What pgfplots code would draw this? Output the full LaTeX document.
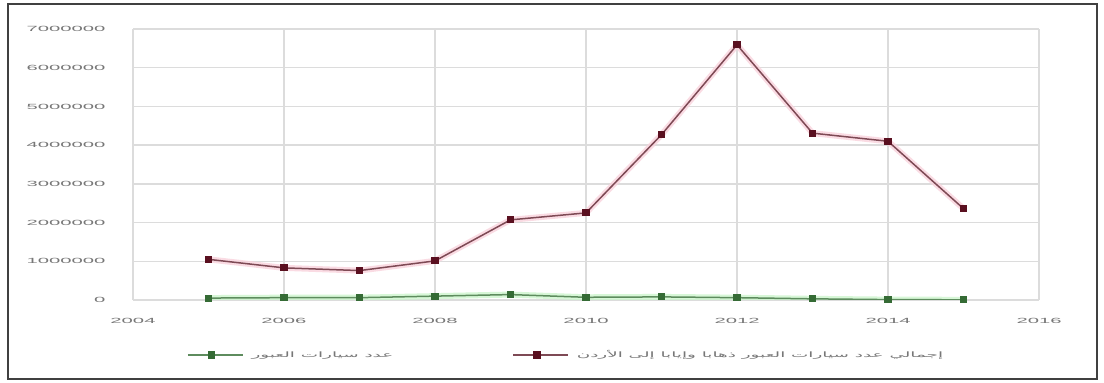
\documentclass[border=0pt]{standalone}
\usepackage{graphicx}
\usepackage{pgfplots}
\pgfplotsset{compat=1.18}
\usepackage{fontspec}
\setmainfont{Liberation Sans}
\newfontfamily\arabicfont[Script=Arabic]{DejaVu Sans}
\TeXXeTstate=1

\definecolor{gridgray}{HTML}{DCDCDC}
\definecolor{ticktext}{HTML}{777777}
\definecolor{redline}{HTML}{7E4A55}
\definecolor{redmark}{HTML}{5A1020}
\definecolor{redglow}{HTML}{F9D3DC}
\definecolor{greenline}{HTML}{5E8C5E}
\definecolor{greenmark}{HTML}{356B35}
\definecolor{greenglow}{HTML}{CDF5CD}

% wide, low lettering used for the labels of the chart
\newcommand{\wide}[1]{\scalebox{2.7}[1]{#1}}
\newcommand{\widelegend}[1]{\scalebox{2.45}[1]{#1}}

\begin{document}
\begin{tikzpicture}[x=1pt,y=1pt]
\path[use as bounding box] (0,0) rectangle (1104,383);
\fill[white] (0,0) rectangle (1104,383);
\draw[black!75, line width=1.3pt] (8,4) rectangle (1097,379);
\begin{axis}[
  at={(133pt,83pt)}, anchor=south west,
  scale only axis, width=906pt, height=271pt,
  xmin=2004, xmax=2016, ymin=0, ymax=7000000,
  xtick={2004,2006,...,2016},
  ytick={0,1000000,...,7000000},
  scaled y ticks=false,
  /pgf/number format/.cd, fixed, 1000 sep={}, assume math mode=true,
  /pgfplots/.cd,
  xticklabel={\wide{\pgfmathprintnumber{\tick}}},
  yticklabel={\wide{\pgfmathprintnumber{\tick}}},
  tick style={draw=none},
  ticklabel style={font=\fontsize{7.5}{9}\selectfont, text=ticktext},
  xticklabel style={yshift=-15pt},
  yticklabel style={xshift=-24pt},
  grid=major,
  grid style={gridgray, line width=1.3pt},
  axis line style={gridgray, line width=1.3pt},
  axis x line*=bottom, axis y line*=left,
  legend columns=2,
  legend style={at={(0.478,-0.203)}, anchor=center, draw=none, fill=none,
    font=\fontsize{7.5}{9}\selectfont, text=ticktext,
    /tikz/every even column/.append style={column sep=117pt}},
  legend image code/.code={
    \draw[#1, line width=1.5pt] (0pt,0pt) -- (55pt,0pt);
    \draw[#1, only marks, mark=square*, mark size=2.8pt] plot coordinates {(24pt,0pt)};
  },
]
% soft halo under each series
\addplot[greenglow, line width=6pt, opacity=0.8, forget plot] coordinates {
  (2005,50000) (2006,60000) (2007,60000) (2008,100000) (2009,140000)
  (2010,70000) (2011,80000) (2012,60000) (2013,30000) (2014,10000) (2015,5000)};
\addplot[redglow, line width=6pt, opacity=0.8, forget plot] coordinates {
  (2005,1050000) (2006,830000) (2007,760000) (2008,1010000) (2009,2070000)
  (2010,2250000) (2011,4270000) (2012,6590000) (2013,4310000) (2014,4100000) (2015,2360000)};
% series
\addplot[greenline, line width=1.5pt, mark=square*, mark size=2.8pt,
  mark options={draw=greenmark, fill=greenmark}] coordinates {
  (2005,50000) (2006,60000) (2007,60000) (2008,100000) (2009,140000)
  (2010,70000) (2011,80000) (2012,60000) (2013,30000) (2014,10000) (2015,5000)};
\addlegendentry{\hspace{6pt}\widelegend{\arabicfont\beginR عدد سيارات العبور\endR}}
\addplot[redline, line width=1.5pt, mark=square*, mark size=2.8pt,
  mark options={draw=redmark, fill=redmark}] coordinates {
  (2005,1050000) (2006,830000) (2007,760000) (2008,1010000) (2009,2070000)
  (2010,2250000) (2011,4270000) (2012,6590000) (2013,4310000) (2014,4100000) (2015,2360000)};
\addlegendentry{\hspace{6pt}\widelegend{\arabicfont\beginR إجمالي عدد سيارات العبور ذهابا وإيابا إلى الأردن\endR}}
\end{axis}
\end{tikzpicture}
\end{document}
